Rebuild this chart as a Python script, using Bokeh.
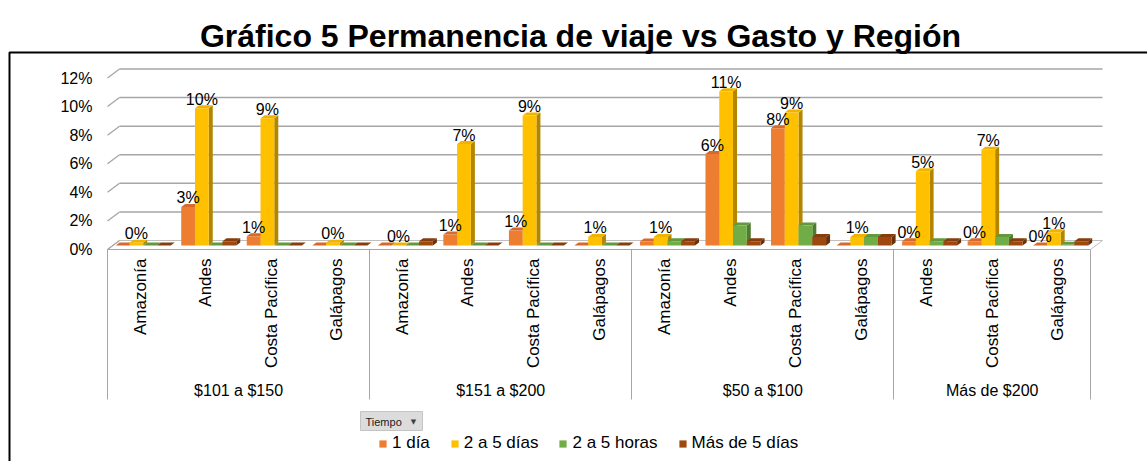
import math
from bokeh.plotting import figure
from bokeh.models import (Range1d, FixedTicker, PrintfTickFormatter, LinearAxis,
                          Label, BoxAnnotation, Legend, LegendItem, ColumnDataSource)
from bokeh.core.properties import value
from bokeh.embed import file_html
from bokeh.resources import INLINE

# ---------------- data ----------------
titulo = "Gráfico 5 Permanencia de viaje vs Gasto y Región"
grupos = ["$101 a $150", "$151 a $200", "$50 a $100", "Más de $200"]
regiones_101_150 = ["Amazonía", "Andes", "Costa Pacífica", "Galápagos"]
regiones_151_200 = ["Amazonía", "Andes", "Costa Pacífica", "Galápagos"]
regiones_50_100 = ["Amazonía", "Andes", "Costa Pacífica", "Galápagos"]
regiones_mas_200 = ["Andes", "Costa Pacífica", "Galápagos"]
series = ["1 día", "2 a 5 días", "2 a 5 horas", "Más de 5 días"]

un_dia = [0.0, 2.7, 0.65, 0.0, 0.0, 0.77, 1.05, 0.0, 0.28, 6.4, 8.2, 0.0, 0.3, 0.3, 0.0]
dos_a_cinco_dias = [0.2, 9.6, 8.9, 0.2, 0.0, 7.1, 9.1, 0.6, 0.6, 10.8, 9.3, 0.6, 5.2, 6.7, 0.93]
dos_a_cinco_horas = [0.0, 0.0, 0.0, 0.0, 0.0, 0.0, 0.0, 0.0, 0.3, 1.4, 1.4, 0.6, 0.3, 0.6, 0.05]
mas_de_cinco_dias = [0.0, 0.3, 0.0, 0.0, 0.3, 0.0, 0.0, 0.0, 0.3, 0.3, 0.6, 0.6, 0.3, 0.3, 0.3]

etiquetas_un_dia = ["", "3%", "1%", "", "", "1%", "1%", "", "", "6%", "8%", "", "0%", "0%", "0%"]
etiquetas_dos_a_cinco_dias = ["0%", "10%", "9%", "0%", "0%", "7%", "9%", "1%", "1%", "11%", "9%", "1%", "5%", "7%", "1%"]

y_ticks = [0, 2, 4, 6, 8, 10, 12]
campo_filtro = "Tiempo"

colores = ["#ED7D31", "#FFC000", "#70AD47", "#9E480E"]
colores_lado = ["#A9561F", "#B38600", "#4E7A31", "#6A300A"]
colores_tapa = ["#D7692A", "#F0B400", "#62993C", "#863C0C"]

# ---------------- layout constants ----------------
FONT = "Liberation Sans"
W, H = 1147, 461
regiones = [regiones_101_150, regiones_151_200, regiones_50_100, regiones_mas_200]
cats = [r for regs in regiones for r in regs]
n = len(cats)
valores = [un_dia, dos_a_cinco_dias, dos_a_cinco_horas, mas_de_cinco_dias]

AX_L, AX_R = 107, 1090             # page x of category axis ends
AX_Y, Y12 = 249, 77.5              # page y of 0% and 12%
PXX = (AX_R - AX_L) / n
PXY = (AX_Y - Y12) / 12.0

def ux(px):
    return (px - AX_L) / PXX

def vy(py):
    return (AX_Y - py) / PXY

DX, DY = 12 / PXX, 9 / PXY         # wall depth
BW, BOFF = 0.21, 0.125             # bar width / offset within slot
BDX, BDY = 4 / PXX, 3 / PXY        # bar depth
B0 = 4 / PXY                       # bar base (middle of floor depth)

p = figure(x_range=Range1d(ux(0), ux(W)), y_range=Range1d(vy(H), vy(0)),
           width=W, height=H, min_border=0,
           output_backend="svg", toolbar_location=None,
           x_axis_location=None, y_axis_location=None)
p.outline_line_color = None
p.grid.visible = False
p.background_fill_color = "white"
p.border_fill_color = "white"

# ---- y axis (percent) ----
yax = LinearAxis(fixed_location=0, bounds=(0, max(y_ticks)),
                 ticker=FixedTicker(ticks=y_ticks),
                 formatter=PrintfTickFormatter(format="%d%%"))
yax.axis_line_color = None
yax.major_tick_line_color = None
yax.minor_tick_line_color = None
yax.major_tick_out = 0
yax.major_label_standoff = 15
yax.major_label_text_font = FONT
yax.major_label_text_font_size = "16px"
yax.major_label_text_color = "black"
p.add_layout(yax, "left")

# ---- category axis (regions) ----
centros = [i + 0.5 for i in range(n)]
xax = LinearAxis(fixed_location=0, bounds=(-0.001, n + 0.001),
                 ticker=FixedTicker(ticks=centros),
                 major_label_overrides={c: r for c, r in zip(centros, cats)})
xax.major_label_orientation = math.pi / 2
xax.major_label_text_font = FONT
xax.major_label_text_font_size = "17px"
xax.major_label_text_color = "black"
xax.axis_line_color = "#A6A6A6"
xax.major_tick_line_color = None
xax.minor_tick_line_color = None
xax.major_tick_out = 0
xax.major_label_standoff = 9
p.add_layout(xax, "below")

# ---- group axis (spending ranges) with separators ----
bounds = [0]
for regs in regiones:
    bounds.append(bounds[-1] + len(regs))
gcentros = [(a + b) / 2 for a, b in zip(bounds[:-1], bounds[1:])]
gax = LinearAxis(fixed_location=0, bounds=(-0.001, n + 0.001),
                 ticker=FixedTicker(ticks=gcentros, minor_ticks=bounds),
                 major_label_overrides={c: g for c, g in zip(gcentros, grupos)})
gax.major_label_orientation = "horizontal"
gax.major_label_text_font = FONT
gax.major_label_text_font_size = "16px"
gax.major_label_text_color = "black"
gax.axis_line_color = None
gax.major_tick_line_color = None
gax.major_tick_out = 0
gax.minor_tick_in = 0
gax.minor_tick_out = 150
gax.minor_tick_line_color = "#A6A6A6"
gax.minor_tick_line_width = 1
gax.major_label_standoff = -18
p.add_layout(gax, "below")

GRID = "#A6A6A6"
# floor
p.patch(x=[0, n, n + DX, DX], y=[0, 0, DY, DY],
        fill_color="white", line_color="#BFBFBF", line_width=1)
# side wall diagonals and back gridlines
k = len(y_ticks)
p.segment(x0=[0] * k, y0=y_ticks, x1=[DX] * k, y1=[t + DY for t in y_ticks],
          line_color=GRID, line_width=1.3)
p.segment(x0=[DX] * (k - 1), y0=[t + DY for t in y_ticks[1:]],
          x1=[n + DX] * (k - 1), y1=[t + DY for t in y_ticks[1:]],
          line_color=GRID, line_width=1.5)

# 3D bars
fronts = []
for j, vals in enumerate(valores):
    xl = [i + BOFF + j * BW for i in range(n)]
    xr = [x + BW for x in xl]
    yt = [B0 + v for v in vals]
    side_xs = [[r, r + BDX, r + BDX, r] for r in xr]
    side_ys = [[B0, B0 + BDY, t + BDY, t] for t in yt]
    top_xs = [[l, r, r + BDX, l + BDX] for l, r in zip(xl, xr)]
    top_ys = [[t, t, t + BDY, t + BDY] for t in yt]
    p.patches(xs=side_xs, ys=side_ys, fill_color=colores_lado[j], line_color=None)
    p.patches(xs=top_xs, ys=top_ys, fill_color=colores_tapa[j], line_color=None)
    fr = p.quad(left=xl, right=xr, bottom=B0, top=yt,
                fill_color=colores[j], line_color=None)
    fronts.append(fr)

# data labels
for j, labs in [(0, etiquetas_un_dia), (1, etiquetas_dos_a_cinco_dias)]:
    src = ColumnDataSource(dict(
        x=[i + BOFF + j * BW + BW / 2 for i in range(n)],
        y=[B0 + v for v in valores[j]],
        t=labs))
    p.text(x="x", y="y", text="t", source=src,
           text_align="center", text_baseline="alphabetic", y_offset=-9,
           text_font=value(FONT), text_font_size="16px", text_color="black")

# chart border (top and left)
p.add_layout(BoxAnnotation(left=ux(9), right=ux(W + 20), top=vy(52), bottom=vy(H + 20),
                           fill_alpha=0, line_color="black", line_alpha=1, line_width=2))

# title
p.add_layout(Label(x=ux(580), y=vy(35), text=titulo,
                   text_align="center", text_baseline="alphabetic",
                   text_font=FONT, text_font_size="32px", text_font_style="bold",
                   text_color="black"))

# pivot field button
p.add_layout(BoxAnnotation(left=ux(360), right=ux(422), top=vy(411), bottom=vy(430),
                           fill_color="#DCDCDC", fill_alpha=1,
                           line_color="#C4C4C4", line_alpha=1, line_width=1))
p.add_layout(Label(x=ux(365), y=vy(421), text=campo_filtro,
                   text_align="left", text_baseline="middle",
                   text_font=FONT, text_font_size="11px", text_color="#202020"))
p.add_layout(Label(x=ux(413), y=vy(421), text="▼",
                   text_align="center", text_baseline="middle",
                   text_font="DejaVu Sans", text_font_size="7px", text_color="#404040"))

# legend
legend = Legend(items=[LegendItem(label=s, renderers=[fronts[j]]) for j, s in enumerate(series)],
                orientation="horizontal", location=(378, 8),
                glyph_width=9, glyph_height=9, label_standoff=5, spacing=20,
                padding=0, margin=0, border_line_color=None, background_fill_alpha=0,
                label_text_font=FONT, label_text_font_size="17px", label_text_color="black")
p.add_layout(legend)

open("out.html", "w").write(file_html(p, INLINE))
